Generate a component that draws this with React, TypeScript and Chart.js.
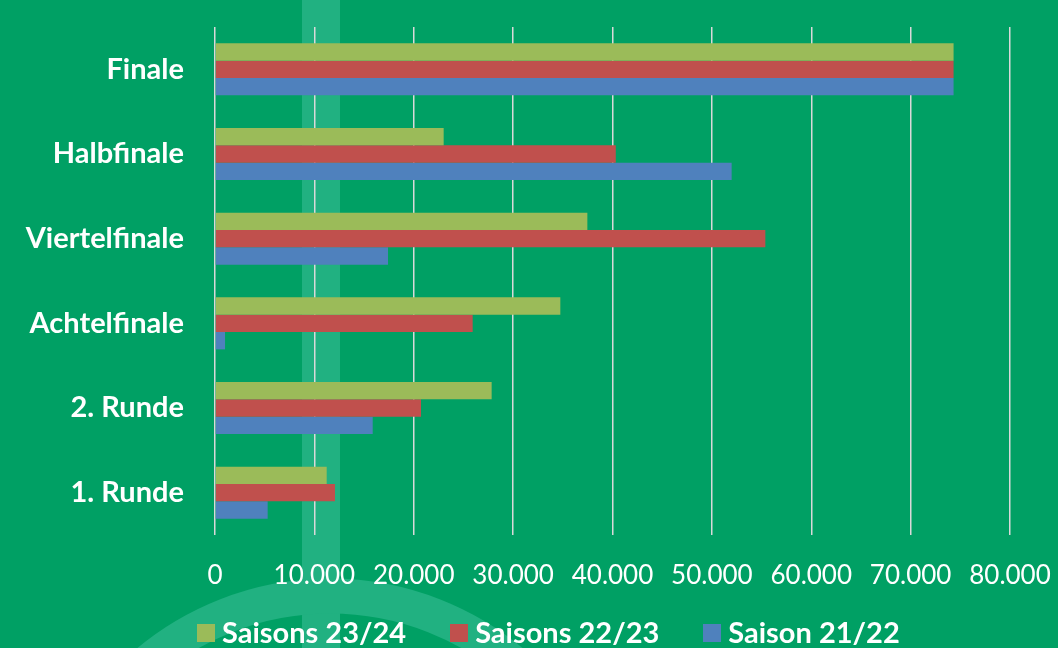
import React, { useEffect, useRef } from "react";
import { Chart, registerables } from "chart.js";

Chart.register(...registerables);

const categories = ["Finale", "Halbfinale", "Viertelfinale", "Achtelfinale", "2. Runde", "1. Runde"];
const season2324 = [74322, 23010, 37470, 34750, 27840, 11240];
const season2223 = [74322, 40330, 55380, 25930, 20730, 12075];
const season2122 = [74322, 51990, 17410, 1010, 15870, 5300];
const seriesNames = ["Saisons 23/24", "Saisons 22/23", "Saison 21/22"];
const seriesColors = ["#9BBB59", "#C0504D", "#4F81BD"];
const xTicks = [0, 10000, 20000, 30000, 40000, 50000, 60000, 70000, 80000];

const BG = "#00A064";
const LIGHT = "#21B181";
const FONT = "Lato, 'Open Sans', sans-serif";

const bgPlugin = {
  id: "bgDecor",
  beforeDraw(chart: any) {
    const { ctx, width, height } = chart;
    ctx.save();
    ctx.fillStyle = BG;
    ctx.fillRect(0, 0, width, height);
    ctx.fillStyle = LIGHT;
    ctx.fillRect(302, 0, 38, height);
    ctx.strokeStyle = LIGHT;
    ctx.lineWidth = 35;
    ctx.beginPath();
    ctx.arc(330, 880, 284, 0, Math.PI * 2);
    ctx.stroke();
    ctx.restore();
  },
};

export default function App() {
  const canvasRef = useRef<HTMLCanvasElement | null>(null);

  useEffect(() => {
    if (!canvasRef.current) return;
    const seriesValues = [season2324, season2223, season2122];
    const chart = new Chart(canvasRef.current, {
      type: "bar",
      data: {
        labels: categories,
        datasets: seriesNames.map((name, i) => ({
          label: name,
          data: seriesValues[i],
          backgroundColor: seriesColors[i],
          borderWidth: 0,
          categoryPercentage: 0.615,
          barPercentage: 1,
        })),
      },
      options: {
        indexAxis: "y",
        animation: false,
        responsive: true,
        maintainAspectRatio: false,
        layout: { padding: { top: 27, right: 48, bottom: 53, left: 0 } },
        plugins: {
          legend: { display: false },
          tooltip: { enabled: false },
        },
        scales: {
          x: {
            min: 0,
            max: 80000,
            afterBuildTicks: (scale: any) => {
              scale.ticks = xTicks.map((v) => ({ value: v }));
            },
            afterFit: (scale: any) => {
              scale.height = 60;
              scale.paddingLeft = 0;
              scale.paddingRight = 0;
            },
            grid: {
              color: "#D9D9D9",
              lineWidth: 1.5,
              drawTicks: false,
            },
            border: { display: false },
            ticks: {
              color: "#FFFFFF",
              font: { family: FONT, size: 26 },
              padding: 25,
              maxRotation: 0,
              autoSkip: false,
              callback: (v: any) => Number(v).toLocaleString("de-DE"),
            },
          },
          y: {
            afterFit: (scale: any) => {
              scale.width = 215;
              scale.paddingTop = 0;
              scale.paddingBottom = 0;
            },
            grid: { display: false, drawTicks: false },
            border: { display: false },
            ticks: {
              color: "#FFFFFF",
              font: { family: FONT, size: 29, weight: "bold" },
              padding: 31,
            },
          },
        },
      },
      plugins: [bgPlugin],
    });
    return () => chart.destroy();
  }, []);

  return (
    <div
      style={{
        position: "fixed",
        left: 0,
        top: 0,
        width: 1058,
        height: 648,
        overflow: "hidden",
        background: BG,
      }}
    >
      <canvas ref={canvasRef} />
      <div
        style={{
          position: "absolute",
          left: 197,
          top: 617,
          display: "flex",
          gap: 44,
          fontFamily: FONT,
          fontWeight: "bold",
          fontSize: 29,
          lineHeight: "29px",
          color: "#FFFFFF",
          whiteSpace: "nowrap",
        }}
      >
        {seriesNames.map((name, i) => (
          <div key={name} style={{ display: "flex", alignItems: "center", height: 29 }}>
            <span
              style={{
                display: "inline-block",
                width: 18,
                height: 18,
                marginRight: 7,
                marginTop: 2,
                background: seriesColors[i],
              }}
            />
            <span>{name}</span>
          </div>
        ))}
      </div>
    </div>
  );
}
